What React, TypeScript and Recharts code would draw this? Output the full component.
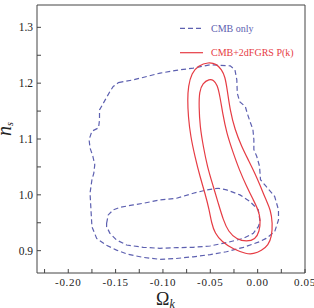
import React from 'react'
import { ScatterChart, Scatter, XAxis, YAxis } from 'recharts'

// contour points [Ωk, ns]
const cmbOuter: [number, number][] = [
  [-0.147, 1.201], [-0.131, 1.206], [-0.117, 1.212], [-0.103, 1.218], [-0.086, 1.223],
  [-0.068, 1.227], [-0.05, 1.233], [-0.029, 1.231], [-0.024, 1.224], [-0.022, 1.206],
  [-0.0215, 1.182], [-0.019, 1.167], [-0.013, 1.158], [-0.011, 1.146], [-0.008, 1.131],
  [-0.005, 1.117], [-0.004, 1.099], [-0.004, 1.081], [-0.001, 1.069], [0.002, 1.051],
  [0.003, 1.027], [0.009, 1.015], [0.018, 0.997], [0.022, 0.973], [0.022, 0.955],
  [0.018, 0.934], [0.009, 0.922], [0.002, 0.916], [-0.015, 0.906], [-0.033, 0.898],
  [-0.05, 0.893], [-0.068, 0.889], [-0.086, 0.886], [-0.103, 0.8845], [-0.121, 0.888],
  [-0.138, 0.894], [-0.149, 0.901], [-0.16, 0.91], [-0.17, 0.922], [-0.175, 0.943],
  [-0.176, 0.973], [-0.177, 1.003], [-0.175, 1.027], [-0.173, 1.039], [-0.172, 1.054],
  [-0.174, 1.069], [-0.177, 1.084], [-0.178, 1.099], [-0.175, 1.114], [-0.168, 1.12],
  [-0.167, 1.134], [-0.167, 1.152], [-0.161, 1.17], [-0.156, 1.185], [-0.1525, 1.194],
]

const cmbInner: [number, number][] = [
  [-0.1595, 0.949], [-0.1578, 0.964], [-0.1525, 0.973], [-0.1454, 0.9777], [-0.1313, 0.9819],
  [-0.1208, 0.9849], [-0.1032, 0.9909], [-0.0856, 0.9939], [-0.068, 1.0028], [-0.0539, 1.0088],
  [-0.0416, 1.0118], [-0.0328, 1.0088], [-0.0187, 0.9999], [-0.0081, 0.9879], [0.0007, 0.973],
  [0.0025, 0.952], [0.0007, 0.9431], [-0.0046, 0.9311], [-0.0152, 0.9221], [-0.0328, 0.9144],
  [-0.0504, 0.9084], [-0.068, 0.906], [-0.0856, 0.9054], [-0.1032, 0.9042], [-0.1208, 0.906],
  [-0.1384, 0.9102], [-0.149, 0.9191], [-0.156, 0.9311], [-0.1595, 0.9431],
]

const lssOuter: [number, number][] = [
  [-0.0521, 1.2378], [-0.0433, 1.2343], [-0.038, 1.2241], [-0.0345, 1.2121], [-0.0321, 1.1882],
  [-0.0292, 1.1523], [-0.024, 1.1165], [-0.0169, 1.0866], [-0.0099, 1.0626], [-0.0029, 1.0387],
  [0.0031, 1.0148], [0.0088, 0.9909], [0.0137, 0.973], [0.0158, 0.949], [0.0148, 0.9251],
  [0.0113, 0.9102], [0.0042, 0.9], [-0.0046, 0.894], [-0.0116, 0.894], [-0.0257, 0.9024],
  [-0.038, 0.9161], [-0.0451, 0.9311], [-0.0486, 0.949], [-0.0511, 0.973], [-0.0556, 1.0028],
  [-0.0609, 1.0327], [-0.0662, 1.0686], [-0.0708, 1.1045], [-0.0733, 1.1404], [-0.074, 1.1703],
  [-0.0733, 1.1942], [-0.0697, 1.2181], [-0.0627, 1.2313],
]

const lssInner: [number, number][] = [
  [-0.0511, 1.2074], [-0.0468, 1.2062], [-0.0426, 1.1972], [-0.0398, 1.1763], [-0.037, 1.1464],
  [-0.0328, 1.1105], [-0.0257, 1.0746], [-0.0194, 1.0447], [-0.0116, 1.0148], [-0.0046, 0.9909],
  [0.0007, 0.973], [0.0032, 0.955], [0.0018, 0.9341], [-0.0024, 0.9203], [-0.0116, 0.9161],
  [-0.0222, 0.9203], [-0.031, 0.9341], [-0.0363, 0.955], [-0.0416, 0.9849], [-0.0468, 1.0148],
  [-0.0532, 1.0507], [-0.0574, 1.0866], [-0.0609, 1.1224], [-0.062, 1.1583], [-0.0616, 1.1852],
  [-0.0581, 1.2002],
]

const xTicks = [-0.225, -0.2, -0.175, -0.15, -0.125, -0.1, -0.075, -0.05, -0.025, 0, 0.025, 0.05]
const yTicks = [0.9, 0.95, 1.0, 1.05, 1.1, 1.15, 1.2, 1.25, 1.3]

const BLUE = '#5d60b0'
const RED = '#e63c44'
const AXIS = '#444'
const SERIF = '"Liberation Serif", "DejaVu Serif", serif'

const toPts = (arr: [number, number][]) => arr.map(([x, y]) => ({ x, y }))
const isMajor = (v: number) => Math.abs(v * 20 - Math.round(v * 20)) < 1e-6
const noDot = () => <g />

function XTick(props: any) {
  const { x, y, payload } = props
  if (!isMajor(payload.value)) return <g />
  return (
    <text x={x} y={y} dy="0.71em" textAnchor="middle" fill="#222" fontSize={11}
      fontFamily={SERIF} letterSpacing={0.7}>
      {payload.value.toFixed(2).replace('-0.00', '0.00')}
    </text>
  )
}

function YTick(props: any) {
  const { x, y, payload } = props
  if (!isMajor(payload.value) || Math.abs(payload.value * 10 - Math.round(payload.value * 10)) > 1e-6) return <g />
  return (
    <text x={x} y={y} dy="0.36em" textAnchor="end" fill="#222" fontSize={11.5} fontFamily={SERIF}>
      {payload.value.toFixed(1)}
    </text>
  )
}

function Legend() {
  return (
    <svg width={314} height={308} style={{ position: 'absolute', left: 0, top: 0, pointerEvents: 'none' }}>
      <line x1={180} x2={201} y1={28.3} y2={28.3} stroke={BLUE} strokeWidth={1.2} strokeDasharray="5 3" />
      <text x={211} y={31.5} fill={BLUE} fontSize={10} fontFamily={SERIF}>CMB only</text>
      <line x1={180} x2={203} y1={52.7} y2={52.7} stroke={RED} strokeWidth={1.2} />
      <text x={211} y={56} fill={RED} fontSize={10} fontFamily={SERIF}>CMB+2dFGRS P(k)</text>
    </svg>
  )
}

export default function App() {
  return (
    <div style={{ position: 'absolute', left: 0, top: 0, width: 314, height: 308, background: '#fff' }}>
      <ScatterChart width={314} height={308} margin={{ top: 4, right: 8, bottom: 0, left: 0 }}>
        <XAxis
          dataKey="x" type="number" domain={[-0.233, 0.05]} allowDataOverflow
          ticks={xTicks} interval={0} tickSize={-4} tickMargin={9} height={35}
          stroke={AXIS} tick={<XTick />}
          label={(p: any) => {
            const vb = p.viewBox
            return (
              <text x={vb.x + vb.width / 2 - 15} y={305} fill="#222" fontFamily={SERIF}>
                <tspan fontSize={18}>Ω</tspan>
                <tspan fontSize={12} fontStyle="italic" dy={3}>k</tspan>
              </text>
            )
          }}
        />
        <XAxis xAxisId="top" orientation="top" type="number" domain={[-0.233, 0.05]} allowDataOverflow
          ticks={xTicks} interval={0} tickSize={-4} height={1} stroke={AXIS} tick={false} />
        <YAxis
          dataKey="y" type="number" domain={[0.86, 1.34]} allowDataOverflow
          ticks={yTicks} interval={0} tickSize={-4} tickMargin={8} width={37}
          stroke={AXIS} tick={<YTick />}
          label={() => (
            <text x={11} y={129} transform="rotate(-90, 11, 129)" textAnchor="middle" fill="#222"
              fontFamily={SERIF} fontStyle="italic">
              <tspan fontSize={20}>n</tspan>
              <tspan fontSize={10} dy={2}>s</tspan>
            </text>
          )}
        />
        <YAxis yAxisId="right" orientation="right" type="number" domain={[0.86, 1.34]} allowDataOverflow
          ticks={yTicks} interval={0} tickSize={-4} width={1} stroke={AXIS} tick={false} />
        <Scatter data={toPts(cmbOuter)} shape={noDot} line={{ stroke: BLUE, strokeWidth: 1.2, strokeDasharray: '5 3' }}
          lineType="joint" lineJointType="linearClosed" isAnimationActive={false} />
        <Scatter data={toPts(cmbInner)} shape={noDot} line={{ stroke: BLUE, strokeWidth: 1.2, strokeDasharray: '5 3' }}
          lineType="joint" lineJointType="linearClosed" isAnimationActive={false} />
        <Scatter data={toPts(lssOuter)} shape={noDot} line={{ stroke: RED, strokeWidth: 1.2 }}
          lineType="joint" lineJointType="basisClosed" isAnimationActive={false} />
        <Scatter data={toPts(lssInner)} shape={noDot} line={{ stroke: RED, strokeWidth: 1.2 }}
          lineType="joint" lineJointType="basisClosed" isAnimationActive={false} />
      </ScatterChart>
      <Legend />
    </div>
  )
}
